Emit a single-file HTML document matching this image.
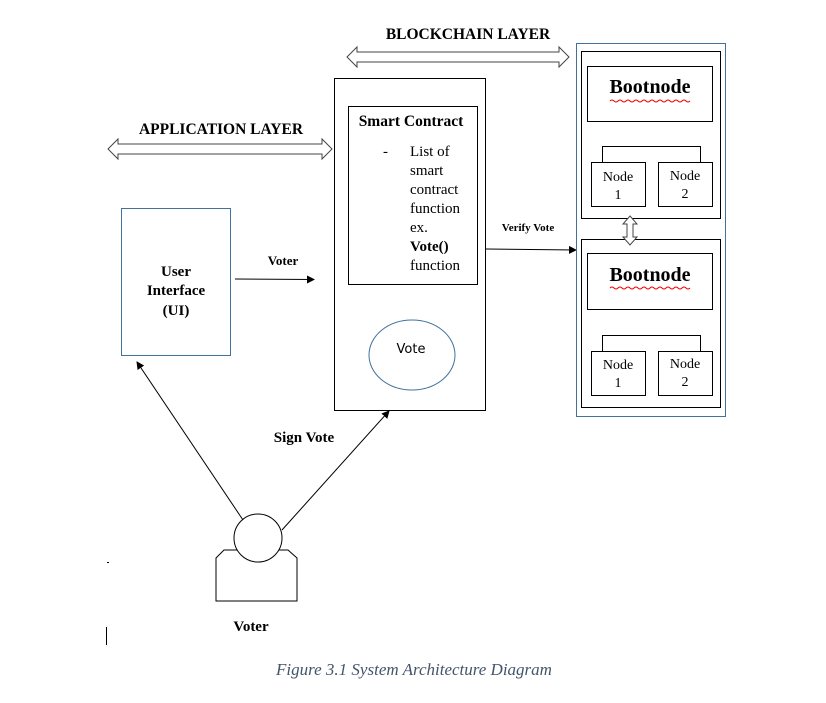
<!DOCTYPE html>
<html><head><meta charset="utf-8"><style>
body{margin:0;background:#fff;}
svg{display:block;font-family:"Liberation Serif",serif;}
</style></head><body>
<svg width="826" height="703" viewBox="0 0 826 703">
<defs><marker id="ar" markerWidth="8" markerHeight="8" refX="7" refY="4" orient="auto" markerUnits="userSpaceOnUse"><path d="M0,0 L8,4 L0,8 z" fill="#000"/></marker></defs>
<g fill="none" stroke="#000" stroke-width="1">
<path d="M347,57 L357,47 L357,52 L559,52 L559,47 L569,57 L559,67 L559,62 L357,62 L357,67 Z" stroke="#444"/>
<path d="M108,149 L118,139 L118,144 L322,144 L322,139 L332,149 L322,159 L322,154 L118,154 L118,159 Z" stroke="#444"/>
<rect x="334.5" y="78.5" width="151" height="332"/>
<rect x="348.5" y="106.5" width="129" height="178"/>
<ellipse cx="412" cy="355" rx="43" ry="35" stroke="#41719c"/>
<rect x="121.5" y="208.5" width="109" height="147" stroke="#41719c"/>
<line x1="235" y1="279" x2="314" y2="279.5" marker-end="url(#ar)"/>
<line x1="486" y1="249" x2="576" y2="250" marker-end="url(#ar)"/>
<line x1="243" y1="520" x2="137" y2="362" marker-end="url(#ar)"/>
<line x1="282" y1="530" x2="389" y2="411" marker-end="url(#ar)"/>
<rect x="576.5" y="43.5" width="149" height="373" stroke="#41719c"/>
<rect x="581.5" y="51.5" width="139" height="167"/>
<rect x="587.5" y="66.5" width="125" height="55"/>
<path d="M602.5,162 V146.5 H700.5 V162"/>
<rect x="591.5" y="162.5" width="54" height="44"/>
<rect x="658.5" y="162.5" width="54" height="44"/>
<rect x="581.5" y="239.5" width="139" height="168"/>
<rect x="587.5" y="253.5" width="125" height="56"/>
<path d="M602.5,351 V335.5 H700.5 V351"/>
<rect x="591.5" y="351.5" width="54" height="44"/>
<rect x="658.5" y="351.5" width="54" height="44"/>
<path d="M630,216 L637,224 L633,224 L633,237 L637,237 L630,245 L623,237 L627,237 L627,224 L623,224 Z" stroke="#444" fill="#fff"/>
<path d="M216,558 L224,550 L280,550 L288,550 L297,558 L297,601 L216,601 Z" fill="#fff"/>
<circle cx="258" cy="538" r="24" fill="#fff"/>
<line x1="106.5" y1="627" x2="106.5" y2="645"/>
<line x1="107" y1="562.5" x2="109" y2="562.5"/>
</g>
<path d="M610,101 q2,-2 4,0 t4,0 t4,0 t4,0 t4,0 t4,0 t4,0 t4,0 t4,0 t4,0 t4,0 t4,0 t4,0 t4,0 t4,0 t4,0 t4,0 t4,0 t4,0 t4,0" stroke="#e00" fill="none" stroke-width="1"/>
<path d="M610,288 q2,-2 4,0 t4,0 t4,0 t4,0 t4,0 t4,0 t4,0 t4,0 t4,0 t4,0 t4,0 t4,0 t4,0 t4,0 t4,0 t4,0 t4,0 t4,0 t4,0 t4,0" stroke="#e00" fill="none" stroke-width="1"/>
<g font-weight="bold" fill="#000">
<text x="468" y="39" font-size="15.5" text-anchor="middle">BLOCKCHAIN LAYER</text>
<text x="221" y="134" font-size="15.5" text-anchor="middle">APPLICATION LAYER</text>
<text x="411" y="126" font-size="15.5" text-anchor="middle">Smart Contract</text>
<text x="176" y="276" font-size="15" text-anchor="middle">User</text>
<text x="176" y="295" font-size="15" text-anchor="middle">Interface</text>
<text x="176" y="315" font-size="15" text-anchor="middle">(UI)</text>
<text x="283" y="265" font-size="13" text-anchor="middle">Voter</text>
<text x="528" y="231" font-size="11" text-anchor="middle">Verify Vote</text>
<text x="304" y="442" font-size="15" text-anchor="middle">Sign Vote</text>
<text x="251" y="631" font-size="15" text-anchor="middle">Voter</text>
<text x="650" y="93" font-size="20" text-anchor="middle">Bootnode</text>
<text x="650" y="281" font-size="20" text-anchor="middle">Bootnode</text>
<text x="410" y="251" font-size="15">Vote()</text>
</g>
<g font-size="15" fill="#000">
<text x="383" y="156">-</text>
<text x="410" y="156">List of</text>
<text x="410" y="175">smart</text>
<text x="410" y="194">contract</text>
<text x="410" y="213">function</text>
<text x="410" y="232">ex.</text>
<text x="410" y="270">function</text>
</g>
<g font-size="14" fill="#000" text-anchor="middle">
<text x="618" y="181">Node</text><text x="618" y="199">1</text>
<text x="685" y="180">Node</text><text x="685" y="198">2</text>
<text x="618" y="369">Node</text><text x="618" y="387">1</text>
<text x="685" y="368">Node</text><text x="685" y="386">2</text>
</g>
<text x="411" y="353" font-size="13" text-anchor="middle" font-family="'DejaVu Sans',sans-serif">Vote</text>
<text x="414" y="675" font-size="17" font-style="italic" fill="#44546a" text-anchor="middle">Figure 3.1 System Architecture Diagram</text>
</svg>
</body></html>
